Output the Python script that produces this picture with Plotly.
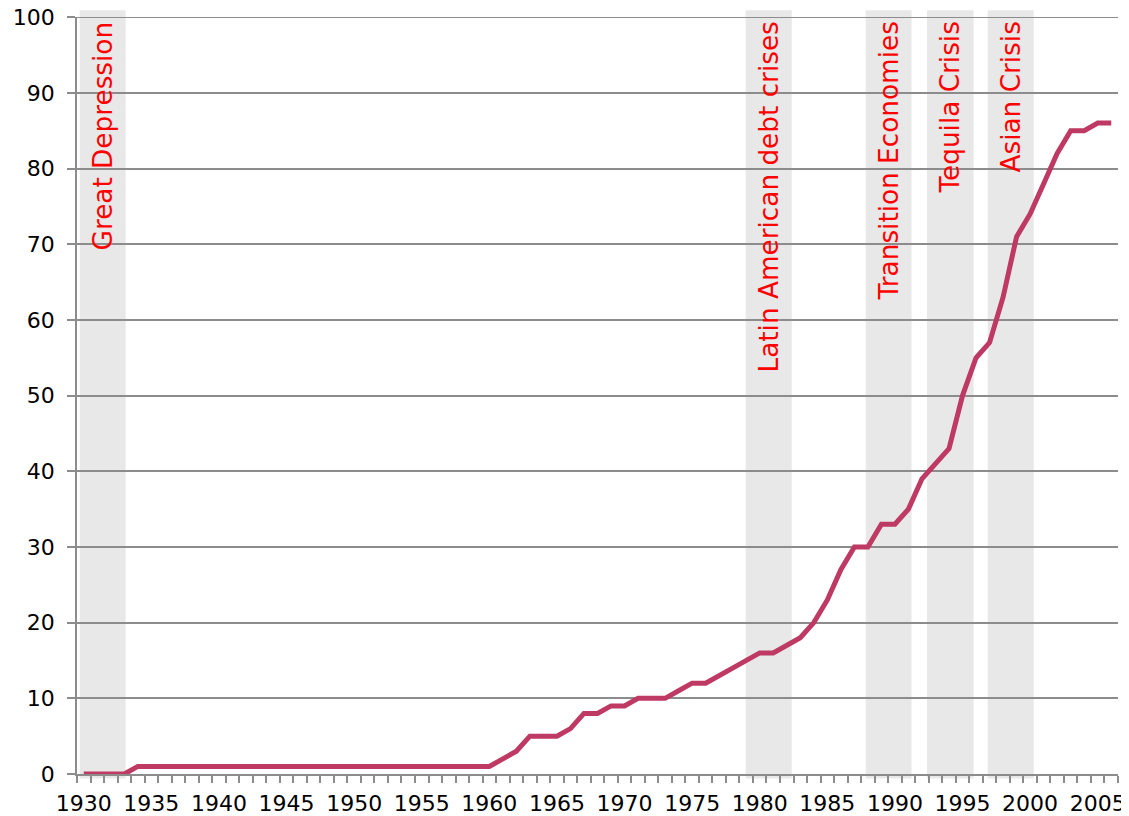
import plotly.graph_objects as go

years = list(range(1930, 2007))
share = [0, 0, 0, 0, 1, 1, 1, 1, 1, 1,
         1, 1, 1, 1, 1, 1, 1, 1, 1, 1,
         1, 1, 1, 1, 1, 1, 1, 1, 1, 1,
         1, 2, 3, 5, 5, 5, 6, 8, 8, 9,
         9, 10, 10, 10, 11, 12, 12, 13, 14, 15,
         16, 16, 17, 18, 20, 23, 27, 30, 30, 33,
         33, 35, 39, 41, 43, 50, 55, 57, 63, 71,
         74, 78, 82, 85, 85, 86, 86]

crisis_names = ["Great Depression", "Latin American debt crises",
                "Transition Economies", "Tequila Crisis", "Asian Crisis"]
crisis_start = [1929.7, 1978.96, 1987.84, 1992.37, 1996.86]
crisis_end = [1933.1, 1982.37, 1991.23, 1995.82, 2000.27]

FONT = "DejaVu Sans"
GRID = "#8c8c8c"

fig = go.Figure()

fig.add_trace(go.Scatter(
    x=years, y=share, mode="lines",
    line=dict(color="rgb(190,57,99)", width=5),
    showlegend=False,
))

# translucent bands so the gridlines still show through
for name, x0, x1 in zip(crisis_names, crisis_start, crisis_end):
    fig.add_shape(type="rect", xref="x", yref="paper",
                  x0=x0, x1=x1, y0=-0.006, y1=1.009,
                  fillcolor="rgba(0,0,0,0.09)", line_width=0, layer="below")
    fig.add_annotation(x=(x0 + x1) / 2, xref="x", y=0.997, yref="paper",
                       text=name, textangle=-90, showarrow=False,
                       xanchor="center", yanchor="top",
                       font=dict(family=FONT, size=26.3, color="red"))

# plotly drops the gridline sitting on the top edge, draw it by hand
fig.add_hline(y=100, line=dict(color=GRID, width=1.5), layer="below")

fig.update_xaxes(
    range=[1929.5, 2006.5], automargin=False,
    tickmode="array", tickvals=list(range(1930, 2006, 5)),
    ticks="", showgrid=False, ticklabelstandoff=9,
    showline=True, linecolor=GRID, linewidth=1.5,
    tickfont=dict(family=FONT, size=22, color="black"),
    minor=dict(tickmode="linear", tick0=1929.5, dtick=1, ticks="outside",
               ticklen=7, tickcolor=GRID, tickwidth=1.5, showgrid=False),
    zeroline=False,
)
fig.update_yaxes(
    range=[0, 100.02], dtick=10, automargin=False,
    showgrid=True, gridcolor=GRID, gridwidth=1.5,
    showline=True, linecolor=GRID, linewidth=1.5,
    ticks="outside", ticklen=8, tickcolor=GRID, tickwidth=1.5,
    ticklabelstandoff=8, ticklabeloverflow="allow",
    tickfont=dict(family=FONT, size=22, color="black"),
    zeroline=False,
)

# page body adds ~8px margin, so the figure is a bit smaller than the window
fig.update_layout(
    width=1121, height=808,
    margin=dict(l=69, r=11, t=9, b=42),
    plot_bgcolor="white", paper_bgcolor="white",
)

fig.write_html("out.html")
